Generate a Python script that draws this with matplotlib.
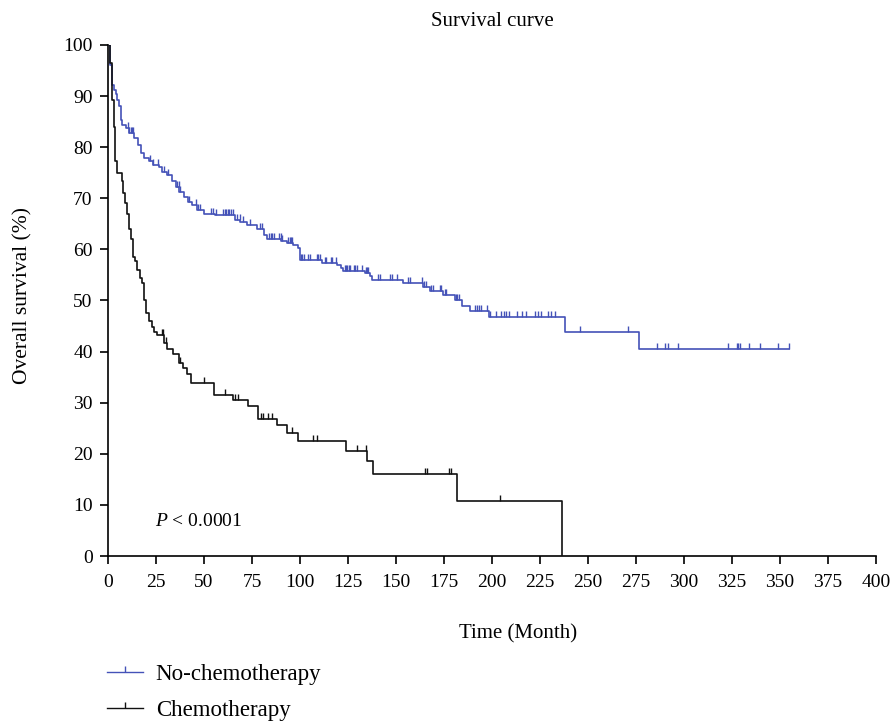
import numpy as np
import matplotlib
matplotlib.use("Agg")
import matplotlib.pyplot as plt
from matplotlib.path import Path
from matplotlib.lines import Line2D

plt.rcParams['font.family'] = ['Liberation Serif', 'DejaVu Serif']
plt.rcParams['mathtext.fontset'] = 'custom'
plt.rcParams['mathtext.it'] = 'Liberation Serif:italic'
plt.rcParams['mathtext.rm'] = 'Liberation Serif'

# ---- data ----
nochemo_times = [0, 1, 2, 3, 4, 4.9, 5.7, 6.6, 7.5, 9.2, 11, 13.6, 15.4, 17.1, 18.8, 21.5, 23.2, 26.7,
                 28.4, 31, 33.6, 35.3, 37, 39.6, 41.7, 44, 46.6, 50, 56, 66, 69, 72.6, 77.8, 81.3, 83,
                 90, 93, 96.4, 99, 100, 111.7, 119.3, 121.6, 122.4, 133.7, 136.3, 137.7, 153.6, 164,
                 167.5, 174.5, 180.5, 184.5, 188.7, 198.4, 237.8, 276.8]
nochemo_surv = [100, 96, 92.2, 91.2, 90.5, 89.2, 88, 85.3, 84.3, 83.7, 82.7, 81.7, 80.4, 78.8, 77.8,
                77.2, 76.5, 76.2, 75.2, 74.6, 73.3, 72.3, 71.3, 70.3, 69.3, 68.7, 67.7, 67, 66.7, 65.7,
                65.4, 64.8, 63.9, 62.8, 62, 61.6, 61.2, 60.9, 60.2, 57.9, 57.4, 57, 56.3, 55.8, 55.3,
                54.7, 54.1, 53.5, 52.7, 51.9, 51.1, 50.1, 49, 48, 46.8, 43.8, 40.45]
nochemo_end = 354.8
nochemo_censor = [10.5, 11.2, 11.8, 12.4, 13, 21.9, 23.2, 26.2, 29.3, 31.4, 36.2, 36.8, 37.5, 42.3,
                  46.1, 47, 47.9, 53.6, 54.5, 56.2, 60, 60.8, 61.6, 62.4, 63.2, 64, 65.2, 67.3, 68.7,
                  70.1, 74.2, 79.1, 80, 84, 84.8, 85.6, 86.4, 89.1, 89.9, 90.7, 93.8, 94.6, 95.2, 95.9,
                  100.3, 101.2, 102, 104.2, 105, 108.9, 109.6, 110.3, 112.9, 113.8, 116.4, 116.9, 118.6,
                  123.3, 124, 124.6, 125.3, 125.9, 128, 128.7, 129.7, 132.5, 134.2, 134.9, 135.6, 140.8,
                  141.5, 146.7, 147.8, 150.5, 156.3, 157.1, 163.7, 164.6, 165.5, 168.4, 169.2, 172.7,
                  173.6, 175.3, 176.2, 181, 181.8, 182.6, 191, 192.1, 193.3, 194.4, 197.3, 199, 201.9,
                  204.8, 206, 207.4, 208.8, 213, 215.7, 217.8, 222.2, 223.9, 225.7, 229.1, 230.9, 232.6,
                  245.9, 270.7, 285.8, 290, 291.5, 296.7, 322.7, 327.6, 328.3, 329, 333.7, 339.6, 348.8,
                  354.7]

chemo_times = [0, 1, 2, 3, 3.6, 4.5, 7.3, 8, 9, 10, 11, 12, 13, 14, 15, 16.7, 17.9, 18.9, 20, 21.3,
               22.7, 24, 25.3, 29.3, 30.5, 34, 37, 38.9, 41, 43, 55, 65, 73, 78, 87.8, 93, 99, 124,
               134.7, 138, 182, 236.7]
chemo_surv = [100, 96.5, 89.2, 84, 77.2, 75, 73.3, 71, 69, 67, 64, 62, 58.5, 57.7, 56, 54.4, 53.4, 50,
              47.5, 45.9, 44.9, 43.9, 43.2, 41.6, 40.6, 39.6, 37.7, 36.7, 35.7, 33.8, 31.6, 30.5, 29.4,
              26.9, 25.6, 24.1, 22.6, 20.6, 18.5, 16.0, 10.7, 0]
chemo_end = 236.7
chemo_censor = [27.9, 28.8, 30, 37.5, 50, 61, 66, 67.5, 79.7, 80.9, 83.1, 85.5, 95.7, 107, 108.7,
                129.8, 134.2, 165, 166.3, 177.5, 178.8, 204]

labels = ["No-chemotherapy", "Chemotherapy"]
colors = ["#4452b8", "#111111"]

x_ticks = list(range(0, 401, 25))
y_ticks = list(range(0, 101, 10))

# ---- plot ----
fig = plt.figure(figsize=(8.96, 7.22), dpi=100)
ax = fig.add_axes([0.1205, 0.2299, 0.8572, 0.7078])

tick_marker = Path([(0, 0), (0, 1)])


def step_value(times, surv, t):
    idx = np.searchsorted(np.asarray(times), t, side='right') - 1
    return np.asarray(surv)[idx]


series = [
    (nochemo_times, nochemo_surv, nochemo_end, nochemo_censor),
    (chemo_times, chemo_surv, chemo_end, chemo_censor),
]
for (times, surv, end, cens), col in zip(series, colors):
    tt = list(times) + [end]
    ss = list(surv) + [surv[-1]]
    ax.step(tt, ss, where='post', color=col, lw=1.2, zorder=3)
    cy = step_value(times, surv, np.asarray(cens))
    ax.plot(cens, cy, linestyle='none', marker=tick_marker, markersize=9,
            markeredgewidth=1.0, color=col, zorder=3)

ax.set_xlim(0, 400)
ax.set_ylim(0, 100)
ax.set_xticks(x_ticks)
ax.set_yticks(y_ticks)
ax.tick_params(direction='out', length=6, width=1.2, labelsize=14)
ax.tick_params(axis='x', pad=7)
ax.tick_params(axis='y', pad=5)
for s in ['top', 'right']:
    ax.spines[s].set_visible(False)
for s in ['left', 'bottom']:
    ax.spines[s].set_linewidth(1.2)

ax.set_ylabel("Overall survival (%)", fontsize=15.5)
ax.yaxis.set_label_coords(-0.098, 0.51)
ax.set_xlabel("Time (Month)", fontsize=15)
ax.xaxis.set_label_coords(0.534, -0.133)
ax.set_title("Survival curve", fontsize=15, pad=14)

ax.text(24.5, 6.8, r"$P$ < 0.0001", fontsize=14, va='center', ha='left')

handles = [Line2D([], [], color=c, lw=1.0, marker=tick_marker, markersize=9, markeredgewidth=1.0)
           for c in colors]
fig.legend(handles, labels, loc='upper left', bbox_to_anchor=(0.119, 0.080), frameon=False,
           borderpad=0, borderaxespad=0, fontsize=16.5, handlelength=1.57, handletextpad=0.57,
           labelspacing=0.62, numpoints=1)

fig.savefig("out.png", dpi=100)
